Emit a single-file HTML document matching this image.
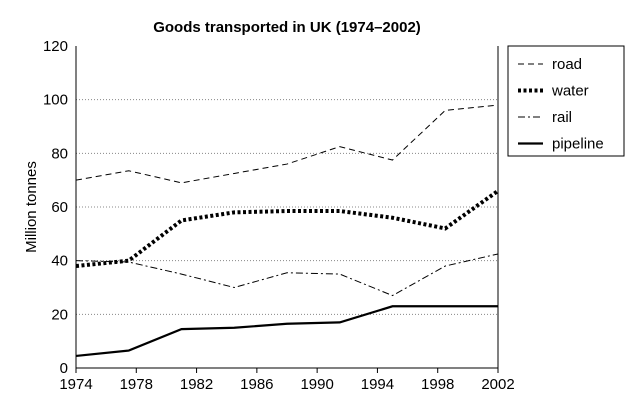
<!DOCTYPE html>
<html><head><meta charset="utf-8"><style>
body{margin:0;background:#fff;}
svg{display:block;font-family:"Liberation Sans",Arial,sans-serif;}
</style></head><body>
<svg id="c" width="640" height="419"></svg>
<script>
const years=[1974,1977.5,1981,1984.5,1988,1991.5,1995,1998.5,2002];
const road=[70,73.5,69,72.5,76,82.5,77.5,96,98];
const water=[38,40,55,58,58.5,58.5,56,52,66];
const rail=[40,39.5,35,30,35.5,35,27,38,42.5];
const pipeline=[4.5,6.5,14.5,15,16.5,17,23,23,23];
const xTicks=[1974,1978,1982,1986,1990,1994,1998,2002];
const yTicks=[0,20,40,60,80,100,120];
const NS='http://www.w3.org/2000/svg';
const svg=document.getElementById('c');
const L=76,R=498,T=46,B=368;
const x=v=>L+(v-1974)/(2002-1974)*(R-L);
const y=v=>B-v/120*(B-T);
function mk(t,a,p){const e=document.createElementNS(NS,t);for(const k in a)e.setAttribute(k,a[k]);(p||svg).appendChild(e);return e;}
let e=mk('text',{x:287,y:32,'text-anchor':'middle','font-size':15,'font-weight':'bold'});e.textContent='Goods transported in UK (1974–2002)';


yTicks.forEach(v=>{
 if(v>0&&v<120){const g=mk('line',{x1:L,x2:R,y1:y(v),y2:y(v),stroke:'#888','stroke-width':1,'stroke-dasharray':'1 2'});
 
 }
 const t=mk('text',{x:L-8,y:y(v)+5,'text-anchor':'end','font-size':15});t.textContent=v;
 
 
});
xTicks.forEach(v=>{
 mk('line',{x1:x(v),x2:x(v),y1:B,y2:B+5,stroke:'#000'});
 const t=mk('text',{x:x(v),y:B+21,'text-anchor':'middle','font-size':15});t.textContent=v;
 
 
});
const ax=mk('path',{d:`M${L},${T}V${B}H${R}V${T}`,fill:'none',stroke:'#000','stroke-width':1});


e=mk('text',{x:0,y:0,transform:`translate(36,${(T+B)/2}) rotate(-90)`,'text-anchor':'middle','font-size':15});e.textContent='Million tonnes';


const series=[
 {n:'road',d:road,dash:'6 4',w:1},
 {n:'water',d:water,dash:'3 2.5',w:4},
 {n:'rail',d:rail,dash:'7 3 2 3',w:1},
 {n:'pipeline',d:pipeline,dash:'',w:2.2}];
series.forEach(s=>{
 const p=mk('polyline',{points:s.d.map((v,i)=>x(years[i])+','+y(v)).join(' '),fill:'none',stroke:'#000','stroke-width':s.w,'stroke-dasharray':s.dash});
 
 
});
const lg=mk('g',{});


mk('rect',{x:508,y:46,width:116,height:110,fill:'#fff',stroke:'#000'},lg);
series.forEach((s,i)=>{
 const yy=64+i*26.5;
 mk('line',{x1:518,x2:543,y1:yy,y2:yy,stroke:'#000','stroke-width':s.w,'stroke-dasharray':s.dash},lg);
 const t=mk('text',{x:552,y:yy+5,'font-size':15},lg);t.textContent=s.n;
 
 
});
</script>
</body></html>
